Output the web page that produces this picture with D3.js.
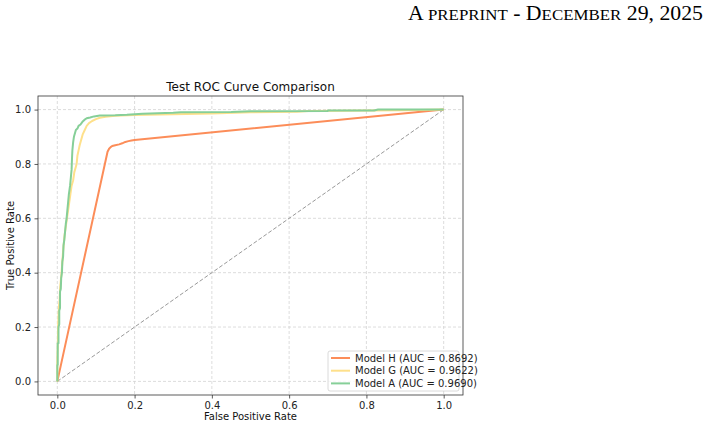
<!DOCTYPE html>
<html>
<head>
<meta charset="utf-8">
<script src="https://cdn.jsdelivr.net/npm/d3@7"></script>
<style>
    html, body { margin: 0; padding: 0; background: #fff; }
    svg { display: block; }
</style>
</head>
<body>
<div id="chart"></div>
<script>
// ROC curve points (fpr, tpr)
const modelNames = ['Model H', 'Model G', 'Model A'];
const aucValues = [0.8692, 0.9622, 0.9690];
const seriesColors = ['#fc8d59', '#fee08b', '#86cf98'];

const fprH = [0, 0.130, 0.134, 0.138, 0.142, 0.150, 0.160, 0.168, 0.176, 0.184, 0.192, 0.200, 1];
const tprH = [0, 0.845, 0.856, 0.862, 0.866, 0.869, 0.872, 0.876, 0.881, 0.884, 0.886, 0.888, 1];

const fprG = [0, 0, 0.001, 0.002, 0.003, 0.004, 0.006, 0.007, 0.009, 0.011, 0.013, 0.015, 0.017, 0.019,
    0.022, 0.025, 0.028, 0.031, 0.034, 0.037, 0.041, 0.044, 0.048, 0.050, 0.052, 0.055, 0.058, 0.062,
    0.066, 0.071, 0.076, 0.082, 0.090, 0.100, 0.110, 0.125, 0.150, 0.200, 0.300, 0.400, 0.500, 0.620,
    0.650, 0.800, 0.900, 1];
const tprG = [0, 0.08, 0.12, 0.20, 0.24, 0.27, 0.30, 0.34, 0.37, 0.40, 0.44, 0.48, 0.51, 0.54,
    0.57, 0.60, 0.63, 0.66, 0.69, 0.72, 0.74, 0.77, 0.79, 0.80, 0.83, 0.85, 0.87, 0.89,
    0.91, 0.925, 0.94, 0.95, 0.958, 0.965, 0.970, 0.974, 0.977, 0.980, 0.983, 0.986, 0.990, 0.992,
    0.995, 0.997, 0.998, 1];

const fprA = [0, 0, 0.001, 0.001, 0.003, 0.003, 0.005, 0.005, 0.007, 0.007, 0.009, 0.010, 0.012, 0.013,
    0.015, 0.016, 0.018, 0.020, 0.022, 0.024, 0.026, 0.028, 0.030, 0.033, 0.035, 0.037, 0.038, 0.039,
    0.041, 0.043, 0.046, 0.048, 0.052, 0.055, 0.060, 0.065, 0.070, 0.076, 0.085, 0.095, 0.110, 0.150,
    0.180, 0.200, 0.220, 0.300, 0.320, 0.450, 0.500, 0.700, 0.700, 0.820, 0.830, 1];
const tprA = [0, 0.06, 0.06, 0.14, 0.14, 0.20, 0.21, 0.26, 0.27, 0.33, 0.34, 0.38, 0.40, 0.44,
    0.46, 0.50, 0.52, 0.55, 0.58, 0.60, 0.63, 0.66, 0.69, 0.72, 0.75, 0.78, 0.82, 0.85,
    0.88, 0.90, 0.915, 0.925, 0.930, 0.940, 0.945, 0.955, 0.962, 0.968, 0.971, 0.975, 0.978, 0.979,
    0.981, 0.983, 0.985, 0.988, 0.990, 0.991, 0.994, 0.995, 0.997, 0.997, 1.0, 1];

const tickValues = [0, 0.2, 0.4, 0.6, 0.8, 1.0];

const series = [
    { name: modelNames[0], auc: aucValues[0], color: seriesColors[0], fpr: fprH, tpr: tprH },
    { name: modelNames[1], auc: aucValues[1], color: seriesColors[1], fpr: fprG, tpr: tprG },
    { name: modelNames[2], auc: aucValues[2], color: seriesColors[2], fpr: fprA, tpr: tprA }
];

const width = 708;
const height = 426;
const margin = { top: 96, right: 245, bottom: 31, left: 38 };
const chartWidth = width - margin.left - margin.right;
const chartHeight = height - margin.top - margin.bottom;
const font = 'DejaVu Sans, sans-serif';

const svg = d3.select('#chart').append('svg')
    .attr('width', width)
    .attr('height', height);

// page header, small caps serif like the LaTeX template
const header = svg.append('text')
    .attr('x', 703)
    .attr('y', 20)
    .attr('text-anchor', 'end')
    .attr('textLength', 295)
    .attr('lengthAdjust', 'spacingAndGlyphs')
    .style('font-family', 'Liberation Serif, serif')
    .style('fill', '#000');
[['A', 20], [' PREPRINT', 15.5], [' - D', 20], ['ECEMBER', 15.5], [' 29, 2025', 20]].forEach(p => {
    header.append('tspan').style('font-size', p[1] + 'px').text(p[0]);
});

const x = d3.scaleLinear().domain([-0.05, 1.05]).range([0, chartWidth]);
const y = d3.scaleLinear().domain([-0.05, 1.05]).range([chartHeight, 0]);

const g = svg.append('g')
    .attr('transform', 'translate(' + margin.left + ',' + margin.top + ')');

// grid
g.append('g')
    .selectAll('line')
    .data(tickValues)
    .enter()
    .append('line')
    .attr('x1', d => x(d))
    .attr('x2', d => x(d))
    .attr('y1', 0)
    .attr('y2', chartHeight)
    .attr('stroke', '#d4d4d4')
    .attr('stroke-width', 0.8)
    .attr('stroke-dasharray', '3,2');

g.append('g')
    .selectAll('line')
    .data(tickValues)
    .enter()
    .append('line')
    .attr('x1', 0)
    .attr('x2', chartWidth)
    .attr('y1', d => y(d))
    .attr('y2', d => y(d))
    .attr('stroke', '#d4d4d4')
    .attr('stroke-width', 0.8)
    .attr('stroke-dasharray', '3,2');

// chance diagonal
g.append('line')
    .attr('x1', x(0))
    .attr('y1', y(0))
    .attr('x2', x(1))
    .attr('y2', y(1))
    .attr('stroke', '#999')
    .attr('stroke-width', 1)
    .attr('stroke-dasharray', '4,2');

const line = d3.line()
    .x(d => x(d[0]))
    .y(d => y(d[1]));

series.forEach(s => {
    g.append('path')
        .datum(s.fpr.map((f, i) => [f, s.tpr[i]]))
        .attr('d', line)
        .attr('fill', 'none')
        .attr('stroke', s.color)
        .attr('stroke-width', 2)
        .attr('stroke-linejoin', 'round');
});

// axes
const xAxis = g.append('g')
    .attr('transform', 'translate(0,' + chartHeight + ')')
    .call(d3.axisBottom(x).tickValues(tickValues).tickFormat(d3.format('.1f')).tickSize(3.5).tickPadding(3.5));
const yAxis = g.append('g')
    .call(d3.axisLeft(y).tickValues(tickValues).tickFormat(d3.format('.1f')).tickSize(3.5).tickPadding(3.5));

[xAxis, yAxis].forEach(a => {
    a.select('.domain').remove();
    a.selectAll('line').attr('stroke', '#333').attr('stroke-width', 0.8);
    a.selectAll('text')
        .style('font-family', font)
        .style('font-size', '10px')
        .style('fill', '#222');
});

g.append('rect')
    .attr('width', chartWidth)
    .attr('height', chartHeight)
    .attr('fill', 'none')
    .attr('stroke', '#333')
    .attr('stroke-width', 0.8);

// title and labels
svg.append('text')
    .attr('x', margin.left + chartWidth / 2)
    .attr('y', 91)
    .attr('text-anchor', 'middle')
    .style('font-family', font)
    .style('font-size', '12px')
    .style('fill', '#111')
    .text('Test ROC Curve Comparison');

svg.append('text')
    .attr('x', margin.left + chartWidth / 2)
    .attr('y', 420)
    .attr('text-anchor', 'middle')
    .style('font-family', font)
    .style('font-size', '10px')
    .style('fill', '#111')
    .text('False Positive Rate');

svg.append('text')
    .attr('transform', 'rotate(-90)')
    .attr('x', -(margin.top + chartHeight / 2))
    .attr('y', 14)
    .attr('text-anchor', 'middle')
    .style('font-family', font)
    .style('font-size', '10px')
    .style('fill', '#111')
    .text('True Positive Rate');

// legend
const legend = g.append('g')
    .attr('transform', 'translate(' + (chartWidth - 135) + ',' + (chartHeight - 44) + ')');

legend.append('rect')
    .attr('width', 131)
    .attr('height', 40)
    .attr('rx', 2)
    .attr('fill', '#fff')
    .attr('fill-opacity', 0.8)
    .attr('stroke', '#d0d0d0')
    .attr('stroke-width', 0.8);

series.forEach((s, i) => {
    const row = legend.append('g')
        .attr('transform', 'translate(0,' + (7 + i * 12.7) + ')');
    row.append('line')
        .attr('x1', 3)
        .attr('x2', 22)
        .attr('stroke', s.color)
        .attr('stroke-width', 2);
    row.append('text')
        .attr('x', 27)
        .attr('y', 3.5)
        .style('font-family', font)
        .style('font-size', '10px')
        .style('fill', '#222')
        .text(s.name + ' (AUC = ' + s.auc.toFixed(4) + ')');
});
</script>
</body>
</html>
